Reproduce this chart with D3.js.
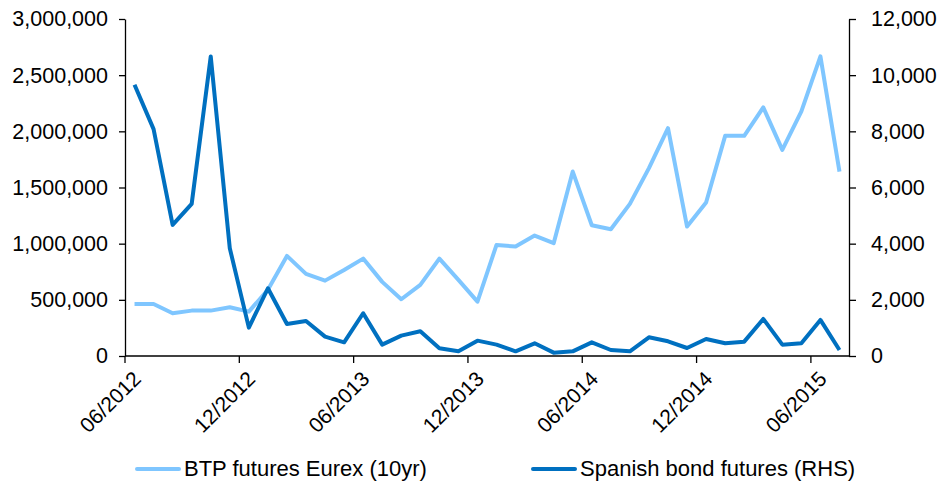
<script src="https://cdn.jsdelivr.net/npm/d3@7"></script>
<style>
  body { margin: 0; background: #fff; }
  text { font-family: "Liberation Sans", Arial, sans-serif; fill: #000; }
</style>
<div id="chart"></div>
<script>
var months = ["06/2012","07/2012","08/2012","09/2012","10/2012","11/2012","12/2012","01/2013","02/2013","03/2013",
  "04/2013","05/2013","06/2013","07/2013","08/2013","09/2013","10/2013","11/2013","12/2013","01/2014",
  "02/2014","03/2014","04/2014","05/2014","06/2014","07/2014","08/2014","09/2014","10/2014","11/2014",
  "12/2014","01/2015","02/2015","03/2015","04/2015","05/2015","06/2015","07/2015"];

var btp = [463000, 463000, 380000, 404000, 404000, 434000, 395000, 590000, 891000, 731000,
  671000, 766000, 867000, 660000, 505000, 633000, 867000, 677000, 484000, 989000,
  974000, 1072000, 1004000, 1642000, 1164000, 1129000, 1354000, 1672000, 2028000, 1152000,
  1366000, 1960000, 1960000, 2213000, 1835000, 2177000, 2667000, 1642000];

var spanish = [9658, 8078, 4669, 5417, 10668, 3837, 1010, 2412, 1140, 1247,
  689, 487, 1522, 404, 725, 880, 273, 166, 547, 404,
  166, 452, 119, 166, 487, 214, 166, 666, 523, 285,
  606, 452, 511, 1320, 404, 452, 1284, 214];

var leftTicks = [0, 500000, 1000000, 1500000, 2000000, 2500000, 3000000];
var rightTicks = [0, 2000, 4000, 6000, 8000, 10000, 12000];
var xTickLabels = ["06/2012","12/2012","06/2013","12/2013","06/2014","12/2014","06/2015"];

var seriesNames = ["BTP futures Eurex (10yr)", "Spanish bond futures (RHS)"];
var colors = ["#7FC6FF", "#0070C0"];

var W = 940, H = 485;
var margin = {top: 19, right: 91, bottom: 129, left: 125};
var width = W - margin.left - margin.right,
    height = H - margin.top - margin.bottom;

var svg = d3.select("#chart").append("svg")
    .attr("width", W).attr("height", H)
  .append("g")
    .attr("transform", "translate(" + margin.left + "," + margin.top + ")");

var x = d3.scaleBand().domain(months).range([0, width]).padding(0);
var yL = d3.scaleLinear().domain([0, 3000000]).range([height, 0]);
var yR = d3.scaleLinear().domain([0, 12000]).range([height, 0]);
var fmt = d3.format(",");

// left axis
var gl = svg.append("g")
    .call(d3.axisLeft(yL).tickValues(leftTicks).tickFormat(fmt).tickSize(6).tickSizeOuter(0));
// right axis
var gr = svg.append("g").attr("transform", "translate(" + width + ",0)")
    .call(d3.axisRight(yR).tickValues(rightTicks).tickFormat(fmt).tickSize(7).tickSizeOuter(0));

[gl, gr].forEach(function(g) {
  g.select(".domain").attr("stroke", "#000").attr("stroke-width", 1.3);
  g.selectAll(".tick line").attr("stroke", "#000").attr("stroke-width", 1.3);
  g.selectAll(".tick text").style("font-size", "21.5px").attr("fill", "#000");
});
gl.selectAll(".tick text").attr("x", -17);
gr.selectAll(".tick text").attr("x", 22);

// bottom axis
var gb = svg.append("g").attr("transform", "translate(0," + height + ")");
gb.append("line").attr("x1", 0).attr("x2", width)
  .attr("stroke", "#000").attr("stroke-width", 1.3);
var tk = gb.selectAll(".xt").data(xTickLabels).enter().append("g")
  .attr("class", "xt")
  .attr("transform", function(d) { return "translate(" + x(d) + ",0)"; });
tk.append("line").attr("y1", 0).attr("y2", 7).attr("stroke", "#000").attr("stroke-width", 1.3);
tk.append("text")
  .attr("transform", "translate(12,19) rotate(-45)")
  .attr("text-anchor", "end")
  .attr("dy", "0.35em")
  .style("font-size", "21px")
  .text(function(d) { return d; });

// lines
var lineL = d3.line()
  .x(function(d, i) { return x(months[i]) + x.bandwidth() / 2; })
  .y(function(d) { return yL(d); });
var lineR = d3.line()
  .x(function(d, i) { return x(months[i]) + x.bandwidth() / 2; })
  .y(function(d) { return yR(d); });

svg.append("path").datum(btp)
  .attr("d", lineL).attr("fill", "none")
  .attr("stroke", colors[0]).attr("stroke-width", 4).attr("stroke-linejoin", "round");
svg.append("path").datum(spanish)
  .attr("d", lineR).attr("fill", "none")
  .attr("stroke", colors[1]).attr("stroke-width", 4).attr("stroke-linejoin", "round");

// legend
var legX = [137, 533];
var leg = svg.selectAll(".leg").data(seriesNames).enter().append("g")
  .attr("transform", function(d, i) { return "translate(" + (legX[i] - margin.left) + "," + (469 - margin.top) + ")"; });
leg.append("line").attr("x1", 0).attr("x2", 42)
  .attr("stroke", function(d, i) { return colors[i]; })
  .attr("stroke-width", 4).attr("stroke-linecap", "round");
leg.append("text").attr("x", 47).attr("dy", "0.33em")
  .style("font-size", "22px")
  .text(function(d) { return d; });
</script>
